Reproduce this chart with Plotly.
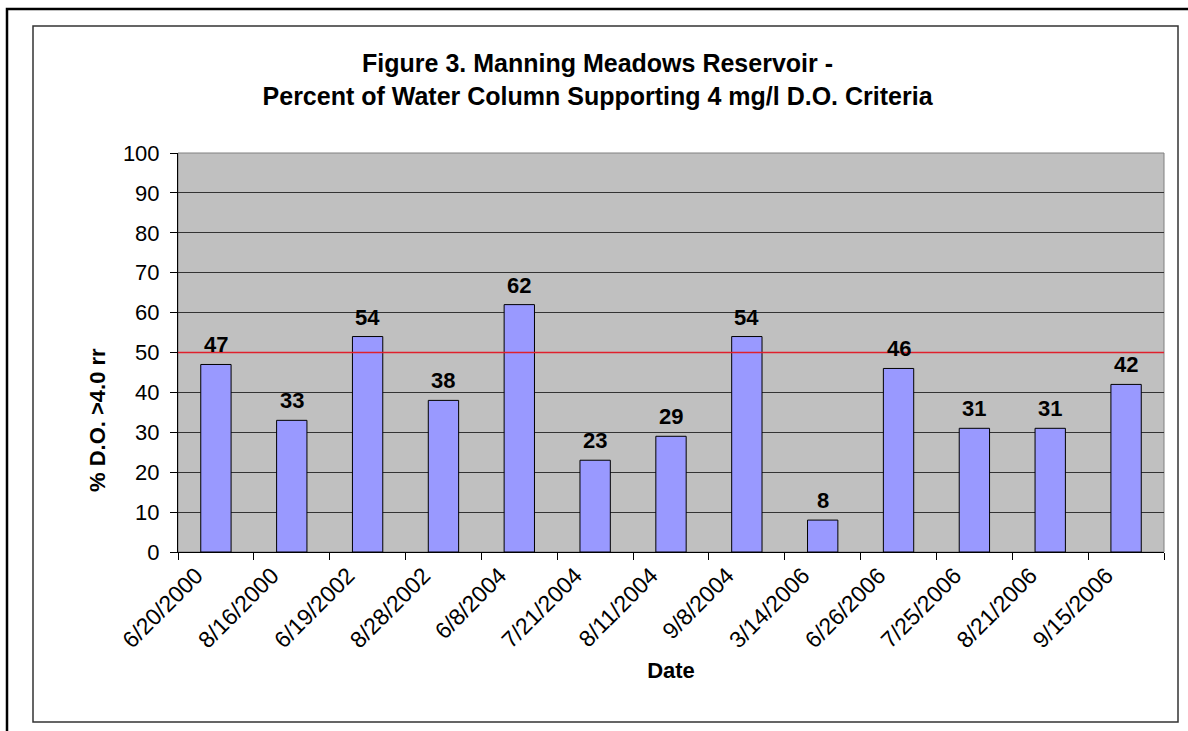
import plotly.graph_objects as go

dates = ["6/20/2000", "8/16/2000", "6/19/2002", "8/28/2002", "6/8/2004",
         "7/21/2004", "8/11/2004", "9/8/2004", "3/14/2006", "6/26/2006",
         "7/25/2006", "8/21/2006", "9/15/2006"]
pct_do = [47, 33, 54, 38, 62, 23, 29, 54, 8, 46, 31, 31, 42]
criteria_pct = 50
y_ticks = list(range(0, 101, 10))

idx = list(range(len(dates)))
label_pos = [i - 0.26 for i in idx]
boundaries = [i - 0.5 for i in range(len(dates) + 1)]

FONT = "Liberation Sans, Arial, sans-serif"

fig = go.Figure()
fig.add_trace(go.Bar(
    x=idx, y=pct_do, width=0.4,
    marker=dict(color="#9999FF", line=dict(color="black", width=1)),
    showlegend=False, hoverinfo="skip",
))
# boundary tick marks on an overlaid axis
fig.add_trace(go.Scatter(x=[boundaries[0]], y=[0], xaxis="x2", mode="markers",
                         marker=dict(opacity=0), showlegend=False, hoverinfo="skip"))

for i, v in zip(idx, pct_do):
    fig.add_annotation(x=i, y=v, text=f"<b>{v}</b>", showarrow=False,
                       yanchor="bottom", yshift=5,
                       font=dict(family=FONT, size=22, color="black"))

# y-axis title
fig.add_annotation(xref="paper", yref="paper", x=(97 - 178) / 986, y=(552 - 420) / 399,
                   text="<b>% D.O. >4.0 rr</b>", textangle=-90, showarrow=False,
                   xanchor="center", yanchor="middle",
                   font=dict(family=FONT, size=22, color="black"))

xrange = [boundaries[0], boundaries[-1]]
fig.update_layout(
    width=1188, height=731,
    margin=dict(l=178, r=24, t=153, b=179),
    paper_bgcolor="white", plot_bgcolor="#C0C0C0",
    font=dict(family=FONT, size=22, color="black"),
    title=dict(
        text="<b>Figure 3. Manning Meadows Reservoir -<br>Percent of Water Column Supporting 4 mg/l D.O. Criteria</b>",
        x=0.503, xanchor="center", y=1 - 72 / 731, yanchor="middle", yref="container",
        font=dict(family=FONT, size=25, color="black"),
    ),
    xaxis=dict(
        range=xrange, tickmode="array", tickvals=label_pos, ticktext=dates,
        tickangle=-45, ticks="", showgrid=False, zeroline=False,
        showline=True, linecolor="black", linewidth=1,
        tickfont=dict(size=23),
        title=dict(text="<b>Date</b>", font=dict(size=22), standoff=10),
    ),
    xaxis2=dict(
        range=xrange, overlaying="x", side="bottom", tickmode="array",
        tickvals=boundaries, showticklabels=False, ticks="outside",
        ticklen=7, tickcolor="black", showgrid=False, zeroline=False,
    ),
    yaxis=dict(
        range=[0, 100], tickmode="array", tickvals=y_ticks,
        ticks="outside", ticklen=7, tickcolor="black", ticklabelstandoff=6,
        showgrid=True, gridcolor="#333333", gridwidth=1, zeroline=False,
        showline=True, linecolor="black", linewidth=1,
        tickfont=dict(size=22),
    ),
)

# criteria line
fig.add_shape(type="line", xref="paper", yref="y", x0=0, x1=1,
              y0=criteria_pct, y1=criteria_pct, line=dict(color="#E0202C", width=1.5),
              layer="above")
# plot-area frame
fig.add_shape(type="rect", xref="paper", yref="paper", x0=0, x1=1, y0=0, y1=1,
              line=dict(color="#808080", width=1), layer="below")
# chart-area frame
fig.add_shape(type="rect", xref="paper", yref="paper",
              x0=(33 - 178) / 986, x1=(1178 - 178) / 986,
              y0=(552 - 722) / 399, y1=(552 - 26) / 399,
              line=dict(color="#333333", width=1.5))
# outer page frame
fig.add_shape(type="rect", xref="paper", yref="paper",
              x0=(7 - 178) / 986, x1=(1200 - 178) / 986,
              y0=(552 - 745) / 399, y1=(552 - 9) / 399,
              line=dict(color="black", width=2.5))

fig.write_html("out.html")
